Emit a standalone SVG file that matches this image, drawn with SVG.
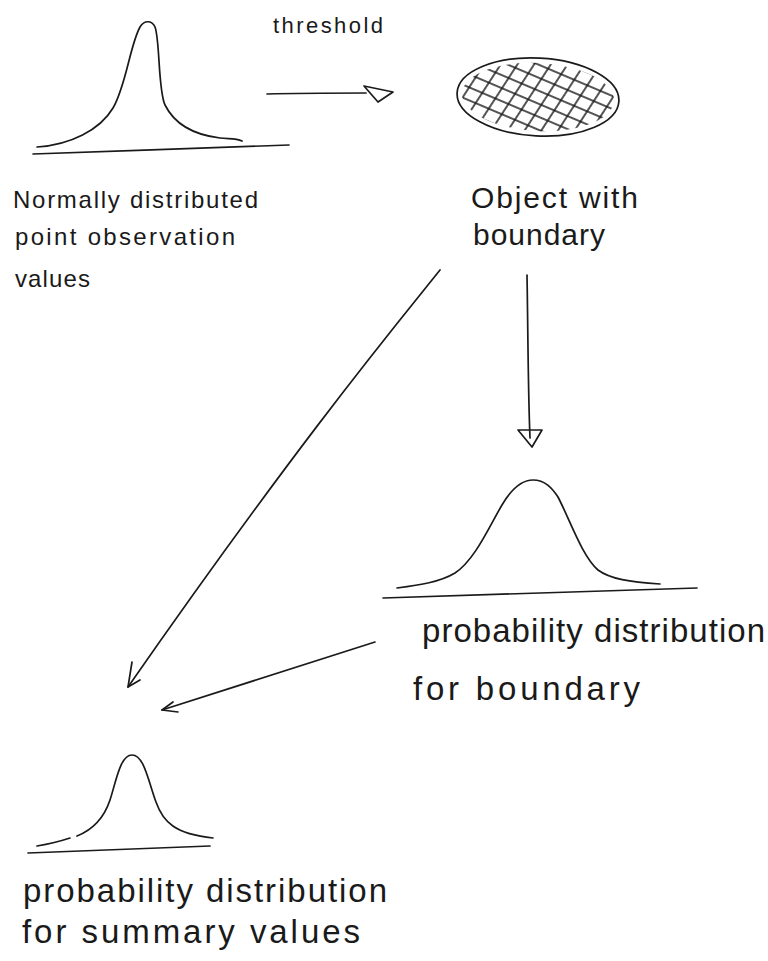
<svg xmlns="http://www.w3.org/2000/svg" width="768" height="961" viewBox="0 0 768 961">
  <style>
    .ink { fill: none; stroke: #1a1a1a; stroke-width: 1.7; stroke-linecap: round; stroke-linejoin: round; }
    .hatch { stroke: #1a1a1a; stroke-width: 1.7; }
    .txt { font-family: "Liberation Sans", "DejaVu Sans", sans-serif; fill: #1a1a1a; }
  </style>
  <defs>
    <pattern id="hatchA" width="40" height="12" patternUnits="userSpaceOnUse" patternTransform="translate(538,97) rotate(20)">
      <line class="hatch" x1="0" y1="6" x2="40" y2="6"/>
    </pattern>
    <pattern id="hatchB" width="40" height="14" patternUnits="userSpaceOnUse" patternTransform="translate(538,97) rotate(-60)">
      <line class="hatch" x1="0" y1="7" x2="40" y2="7"/>
    </pattern>
  </defs>
  <rect width="768" height="961" fill="#ffffff"/>

  <g id="observations">
    <path class="ink" d="M37,147 C70,145 100,130 113,108 C126,86 130,45 140,27 C144,20 152,20 155,27 C160,40 158,90 165,105 C175,125 195,135 220,138 C230,139 236,138 242,141"/>
    <path class="ink" d="M33,154 C120,151 200,148 289,145"/>
    <text class="txt" x="13" y="208" font-size="24" textLength="245" lengthAdjust="spacing">Normally distributed</text>
    <text class="txt" x="15" y="245" font-size="24" textLength="220" lengthAdjust="spacing">point observation</text>
    <text class="txt" x="15" y="287" font-size="24" textLength="75" lengthAdjust="spacing">values</text>
  </g>

  <g id="object">
    <ellipse cx="538" cy="97" rx="76" ry="34" fill="url(#hatchA)" transform="rotate(3 538 97)"/>
    <ellipse cx="538" cy="97" rx="76" ry="34" fill="url(#hatchB)" transform="rotate(3 538 97)"/>
    <ellipse class="ink" cx="538" cy="97" rx="81" ry="39" transform="rotate(3 538 97)"/>
    <text class="txt" x="471" y="208" font-size="30" textLength="167" lengthAdjust="spacing">Object with</text>
    <text class="txt" x="473" y="245" font-size="30" textLength="132" lengthAdjust="spacing">boundary</text>
  </g>

  <g id="boundary-distribution">
    <path class="ink" d="M397,588 C420,585 440,582 455,573 C475,560 490,525 502,505 C512,488 522,480 533,480 C545,480 552,488 558,497 C570,520 582,556 598,570 C610,579 630,582 660,584"/>
    <path class="ink" d="M383,598 C480,595 600,591 697,588"/>
    <text class="txt" x="422" y="642" font-size="33" textLength="343" lengthAdjust="spacing">probability distribution</text>
    <text class="txt" x="413" y="700" font-size="33" textLength="227" lengthAdjust="spacing">for boundary</text>
  </g>

  <g id="summary-distribution">
    <path class="ink" d="M37,846 C55,843 64,840 70,838"/>
    <path class="ink" d="M77,836 C92,830 104,818 110,800 C116,782 120,755 132,755 C144,755 148,780 156,802 C163,822 175,834 213,838"/>
    <path class="ink" d="M28,853 C90,851 150,848 210,846"/>
    <text class="txt" x="23" y="902" font-size="33" textLength="364" lengthAdjust="spacing">probability distribution</text>
    <text class="txt" x="22" y="943" font-size="33" textLength="338" lengthAdjust="spacing">for summary values</text>
  </g>

  <g id="connectors">
    <text class="txt" x="273" y="33" font-size="22" textLength="110" lengthAdjust="spacing">threshold</text>
    <path class="ink" d="M267,94 C300,93 335,93 366,93"/>
    <path class="ink" d="M364,86 L393,92 L378,102 Z"/>
    <path class="ink" d="M527,275 C528,330 528,390 530,438"/>
    <path class="ink" d="M518,430 L542,430 L532,447 Z"/>
    <path class="ink" d="M440,270 C400,320 300,440 128,687"/>
    <path class="ink" d="M132,662 L128,687 L140,680"/>
    <path class="ink" d="M375,642 L162,710"/>
    <path class="ink" d="M173,702 L162,710 L178,712"/>
  </g>
</svg>
